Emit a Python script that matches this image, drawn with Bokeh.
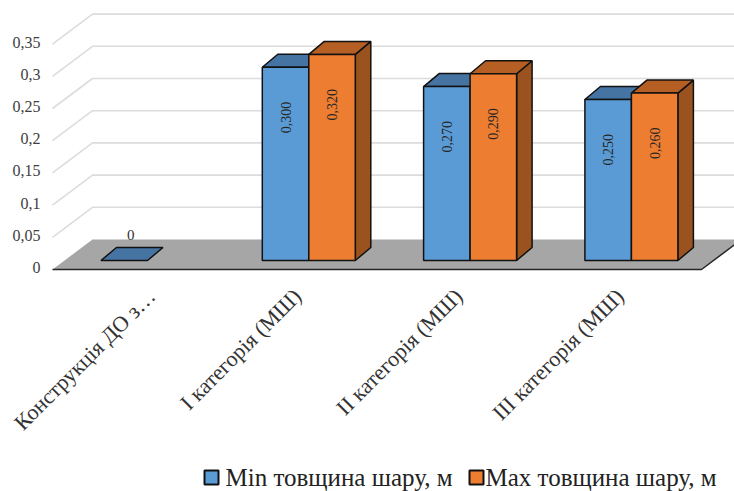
from bokeh.plotting import figure
from bokeh.models import Range1d, LinearAxis, FixedTicker
from bokeh.core.properties import value
from bokeh.embed import file_html
from bokeh.resources import INLINE
import math

categories = ["Конструкція ДО з…", "I категорія (МШ)", "II категорія (МШ)", "III категорія (МШ)"]
min_values = [0.0, 0.300, 0.270, 0.250]
max_values = [None, 0.320, 0.290, 0.260]
min_labels = ["0", "0,300", "0,270", "0,250"]
max_labels = ["", "0,320", "0,290", "0,260"]
y_ticks = [0, 0.05, 0.1, 0.15, 0.2, 0.25, 0.3, 0.35]
y_tick_labels = ["0", "0,05", "0,1", "0,15", "0,2", "0,25", "0,3", "0,35"]
series_names = ["Min товщина шару, м", "Max товщина шару, м"]
label_ticks = [0.025, 0.929, 1.929, 2.929]

PX_X = 161.3          # pixels per category
PX_Y = 644.0          # pixels per unit of value
BW = 46.5 / PX_X      # bar width
DX, DY = 15.5 / PX_X, 13 / PX_Y     # bar depth
X0, X1 = -147 / PX_X, (734 - 147) / PX_X
Y0, Y1 = (260 - 491) / PX_Y, 260 / PX_Y
FX0, FX1 = (52 - 147) / PX_X, (701 - 147) / PX_X   # floor front
FY = -9 / PX_Y
BDX, BDY = 40 / PX_X, 30 / PX_Y     # floor depth
SERIF = "Liberation Serif"

p = figure(width=734, height=491, output_backend="svg", toolbar_location=None,
           x_range=Range1d(X0, X1), y_range=Range1d(Y0, Y1),
           min_border_left=0, min_border_right=0, min_border_top=0, min_border_bottom=0,
           outline_line_color=None, y_axis_location=None, x_axis_location=None)
p.grid.visible = False

# floor and grid
p.patch([FX0, FX0 + BDX, FX1 + BDX, FX1], [FY, FY + BDY, FY + BDY, FY], fill_color="#a6a6a6", line_color=None)
gx = [[FX0, FX0 + BDX, X1] for t in y_ticks[1:]]
gy = [[t + FY, t + FY + BDY, t + FY + BDY] for t in y_ticks[1:]]
p.multi_line(gx, gy, line_color="#dcdcdc", line_width=1.6)
p.line([FX0, FX1, FX1 + BDX], [FY, FY, FY + BDY], line_color="#262626", line_width=1.5)


def bar_faces(center, v, side):
    left = center - BW if side == 0 else center
    right = left + BW
    front = ([left, right, right, left], [0, 0, v, v])
    top = ([left, right, right + DX, left + DX], [v, v, v + DY, v + DY])
    rside = ([right, right + DX, right + DX, right], [0, DY, v + DY, v])
    return front, top, rside


styles = [(min_values, "#5b9bd5", "#4674a2", "#3d6a94"), (max_values, "#ed7d31", "#b55f25", "#9a521e")]
for s, (vals, face, topc, sidec) in enumerate(styles):
    for i, v in enumerate(vals):
        if v is None:
            continue
        f, t, r = bar_faces(float(i), v, s)
        kw = dict(line_color="#111111", line_width=1.5)
        if v == 0:
            p.patch(*t, fill_color=topc, **kw)
            continue
        p.patch(*r, fill_color=sidec, **kw)
        p.patch(*t, fill_color=topc, **kw)
        p.patch(*f, fill_color=face, **kw)

# data labels
for s, (vals, labs) in enumerate([(min_values, min_labels), (max_values, max_labels)]):
    for i, (v, lab) in enumerate(zip(vals, labs)):
        if v is None:
            continue
        cx = i + (-BW / 2 if s == 0 else BW / 2)
        if v == 0:
            p.text([cx + 0.04], [v + 26 / PX_Y], text=[lab], text_font=value(SERIF), text_font_size="15px",
                   text_align="center", text_baseline="middle", text_color="#303030")
        else:
            p.text([cx], [v - 0.078], text=[lab], angle=math.pi / 2, text_font=value(SERIF), text_font_size="14px",
                   text_align="center", text_baseline="middle", text_color="#262626")

# axes
p.extra_y_ranges["front"] = Range1d((267 - 491) / PX_Y, 267 / PX_Y)
yax = LinearAxis(y_range_name="front", ticker=FixedTicker(ticks=y_ticks), fixed_location=FX0,
                 major_label_overrides={t: l for t, l in zip(y_ticks, y_tick_labels)},
                 axis_line_color=None, major_tick_line_color=None, minor_tick_line_color=None,
                 major_label_text_font=SERIF, major_label_text_font_size="16px",
                 major_label_text_color="#404040", major_label_standoff=6)
p.add_layout(yax, "left")

xax = LinearAxis(ticker=FixedTicker(ticks=label_ticks), fixed_location=-12 / PX_Y,
                 major_label_overrides={t: c for t, c in zip(label_ticks, categories)},
                 axis_line_color=None, major_tick_line_color=None, minor_tick_line_color=None,
                 major_label_text_font=SERIF, major_label_text_font_size="22px",
                 major_label_text_color="#333333", major_label_orientation=math.pi / 4, major_label_standoff=14)
p.add_layout(xax, "below")

# legend, drawn as marks and real text so that it can use the serif face
LEG_Y = (260 - 477) / PX_Y
for name, (_, face, _t, _s), sw_px, txt_px in zip(series_names, styles, (211, 476), (225, 485)):
    p.scatter([(sw_px - 147) / PX_X], [LEG_Y], marker="square", size=14, fill_color=face,
              line_color="#111111", line_width=2)
    p.text([(txt_px - 147) / PX_X], [LEG_Y], text=[name], text_font=value(SERIF), text_font_size="25px",
           text_align="left", text_baseline="middle", text_color="#222222")

open("out.html", "w").write(file_html(p, INLINE))
